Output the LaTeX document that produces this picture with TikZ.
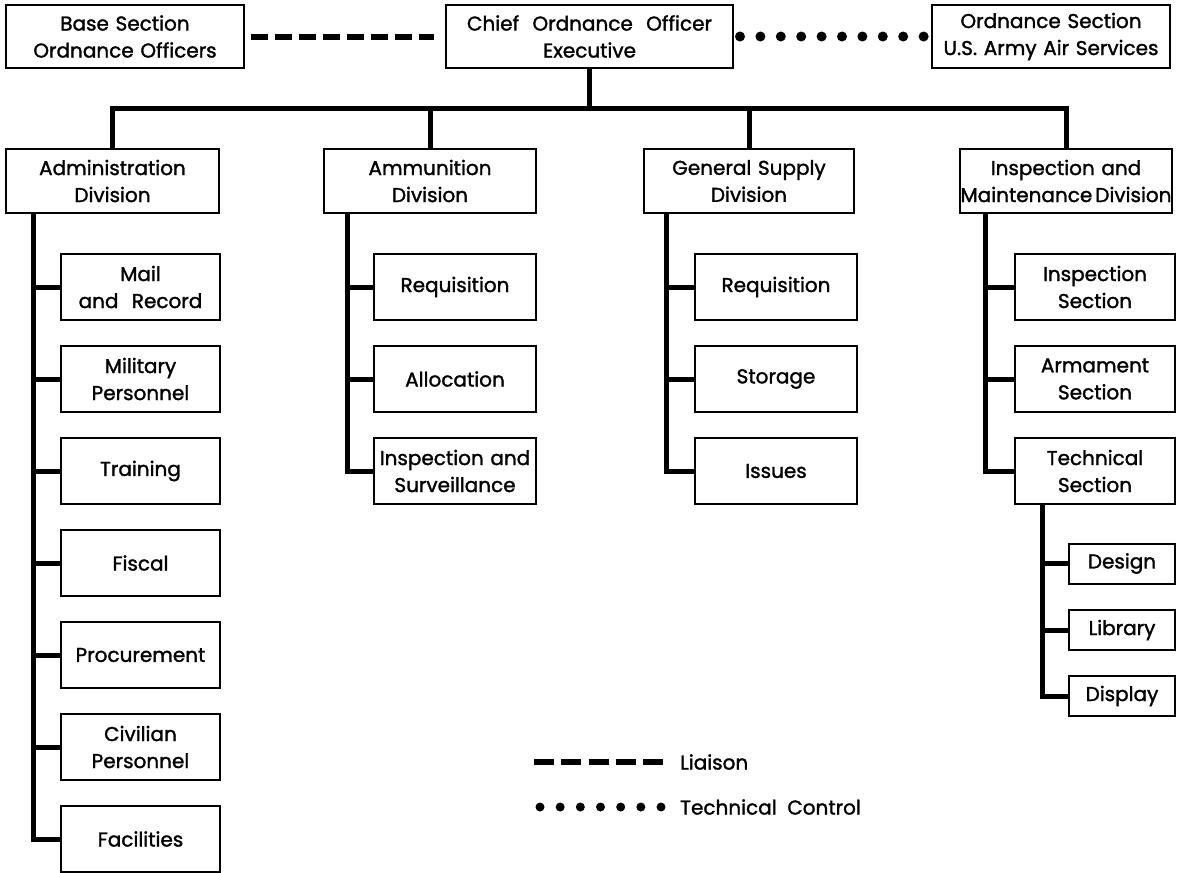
\documentclass[tikz,border=0pt]{standalone}
\usepackage{fontspec}
\setmainfont{Poppins}
\newfontfamily\chartfam{Poppins}[FakeBold=1.5]
\newcommand\boxfont{\chartfam\fontsize{20}{27}\selectfont}
\begin{document}
\begin{tikzpicture}[x=1pt,y=-1pt,
  box/.style={draw, line width=2pt, inner xsep=0pt, inner ysep=0pt, align=center, font=\boxfont},
  sz/.style 2 args={text width=#1pt, minimum height=#2pt},
  conn/.style={line width=5pt, line join=miter, line cap=butt},
  liaison/.style={line width=6pt, dash pattern=on 17pt off 7pt},
  techctrl/.style={line width=10pt, line cap=round, dash pattern=on 0pt off 20.4pt},
  lbl/.style={anchor=west, inner sep=0pt, font=\boxfont}]
\useasboundingbox (0,0) rectangle (1184,873);
% top row
\node[box, sz={238}{63}] (base) at (125,36.5) {Base Section\\Ordnance Officers};
\node[box, sz={287}{63}] (chief) at (589.5,36.5) {Chief\ \ Ordnance\ \ Officer\\Executive};
\node[box, sz={238}{63}] (ordsec) at (1051,36.5) {Ordnance Section\\U.S. Army Air Services};
% divisions
\node[box, sz={213}{64}] (admin) at (112.5,181) {Administration\\Division};
\node[box, sz={212}{64}] (ammun) at (430,181) {Ammunition\\Division};
\node[box, sz={210}{64}] (gensup) at (749,181) {General Supply\\Division};
\node[box, sz={212}{64}] (inspm) at (1066,181) {Inspection and\\Maintenance\kern3pt Division};
% administration sections
\node[box, sz={159}{66}] (mail) at (140.5,287) {Mail\\and\ \ Record};
\node[box, sz={159}{66}] (milpers) at (140.5,379) {Military\\Personnel};
\node[box, sz={159}{66}] (training) at (140.5,471) {Training};
\node[box, sz={159}{66}] (fiscal) at (140.5,563) {Fiscal};
\node[box, sz={159}{66}] (procure) at (140.5,655) {Procurement};
\node[box, sz={159}{66}] (civpers) at (140.5,747) {Civilian\\Personnel};
\node[box, sz={159}{66}] (facil) at (140.5,839) {Facilities};
% ammunition sections
\node[box, sz={162}{66}] (areq) at (455,287) {Requisition};
\node[box, sz={162}{66}] (aalloc) at (455,379) {Allocation};
\node[box, sz={162}{66}] (ainsp) at (455,471) {Inspection and\\Surveillance};
% general supply sections
\node[box, sz={162}{66}] (greq) at (776,287) {Requisition};
\node[box, sz={162}{66}] (gstor) at (776,379) {Storage};
\node[box, sz={162}{66}] (giss) at (776,471) {Issues};
% inspection sections
\node[box, sz={160}{66}] (isec) at (1095,287) {Inspection\\Section};
\node[box, sz={160}{66}] (asec) at (1095,379) {Armament\\Section};
\node[box, sz={160}{66}] (tsec) at (1095,471) {Technical\\Section};
% technical subsections
\node[box, sz={106}{40}] (design) at (1122,563.5) {Design};
\node[box, sz={106}{40}] (library) at (1122,630) {Library};
\node[box, sz={106}{40}] (display) at (1122,696) {Display};
% liaison / technical control
\draw[liaison, shorten <=6pt, shorten >=11pt] (base.east) -- (chief.west);
\draw[techctrl, shorten <=6pt, shorten >=4pt] (chief.east) -- (ordsec.west);
% tree
\coordinate (bus) at (0,108);
\draw[conn] (chief.south) -- (chief.south |- bus);
\draw[conn] (admin.north) -- (admin.north |- bus) -- (inspm.north |- bus) -- (inspm.north);
\draw[conn] (ammun.north) -- (ammun.north |- bus);
\draw[conn] (gensup.north) -- (gensup.north |- bus);
% spines
\coordinate (sA) at ([xshift=28pt]admin.south west);
\coordinate (sM) at ([xshift=24pt]ammun.south west);
\coordinate (sG) at ([xshift=23pt]gensup.south west);
\coordinate (sI) at ([xshift=26pt]inspm.south west);
\coordinate (sT) at ([xshift=28pt]tsec.south west);
\draw[conn] (sA) |- (facil.west);
\foreach \n in {mail,milpers,training,fiscal,procure,civpers}
  \draw[conn] (\n.west) -- (\n.west -| sA);
\draw[conn] (sM) |- (ainsp.west);
\foreach \n in {areq,aalloc}
  \draw[conn] (\n.west) -- (\n.west -| sM);
\draw[conn] (sG) |- (giss.west);
\foreach \n in {greq,gstor}
  \draw[conn] (\n.west) -- (\n.west -| sG);
\draw[conn] (sI) |- (tsec.west);
\foreach \n in {isec,asec}
  \draw[conn] (\n.west) -- (\n.west -| sI);
\draw[conn] (sT) |- (display.west);
\foreach \n in {design,library}
  \draw[conn] (\n.west) -- (\n.west -| sT);
% legend
\node[lbl] (lgl) at (680,762) {Liaison};
\node[lbl] (lgt) at (680,807) {Technical\ \ Control};
\coordinate (lgA) at (534,762);
\coordinate (lgB) at (540,807);
\draw[line width=6pt, dash pattern=on 20pt off 7.25pt] (lgA) -- ([xshift=-17pt]lgl.west);
\draw[line width=9pt, line cap=round, dash pattern=on 0pt off 20.17pt] (lgB) -- ([xshift=-18pt]lgt.west);
\end{tikzpicture}
\end{document}
